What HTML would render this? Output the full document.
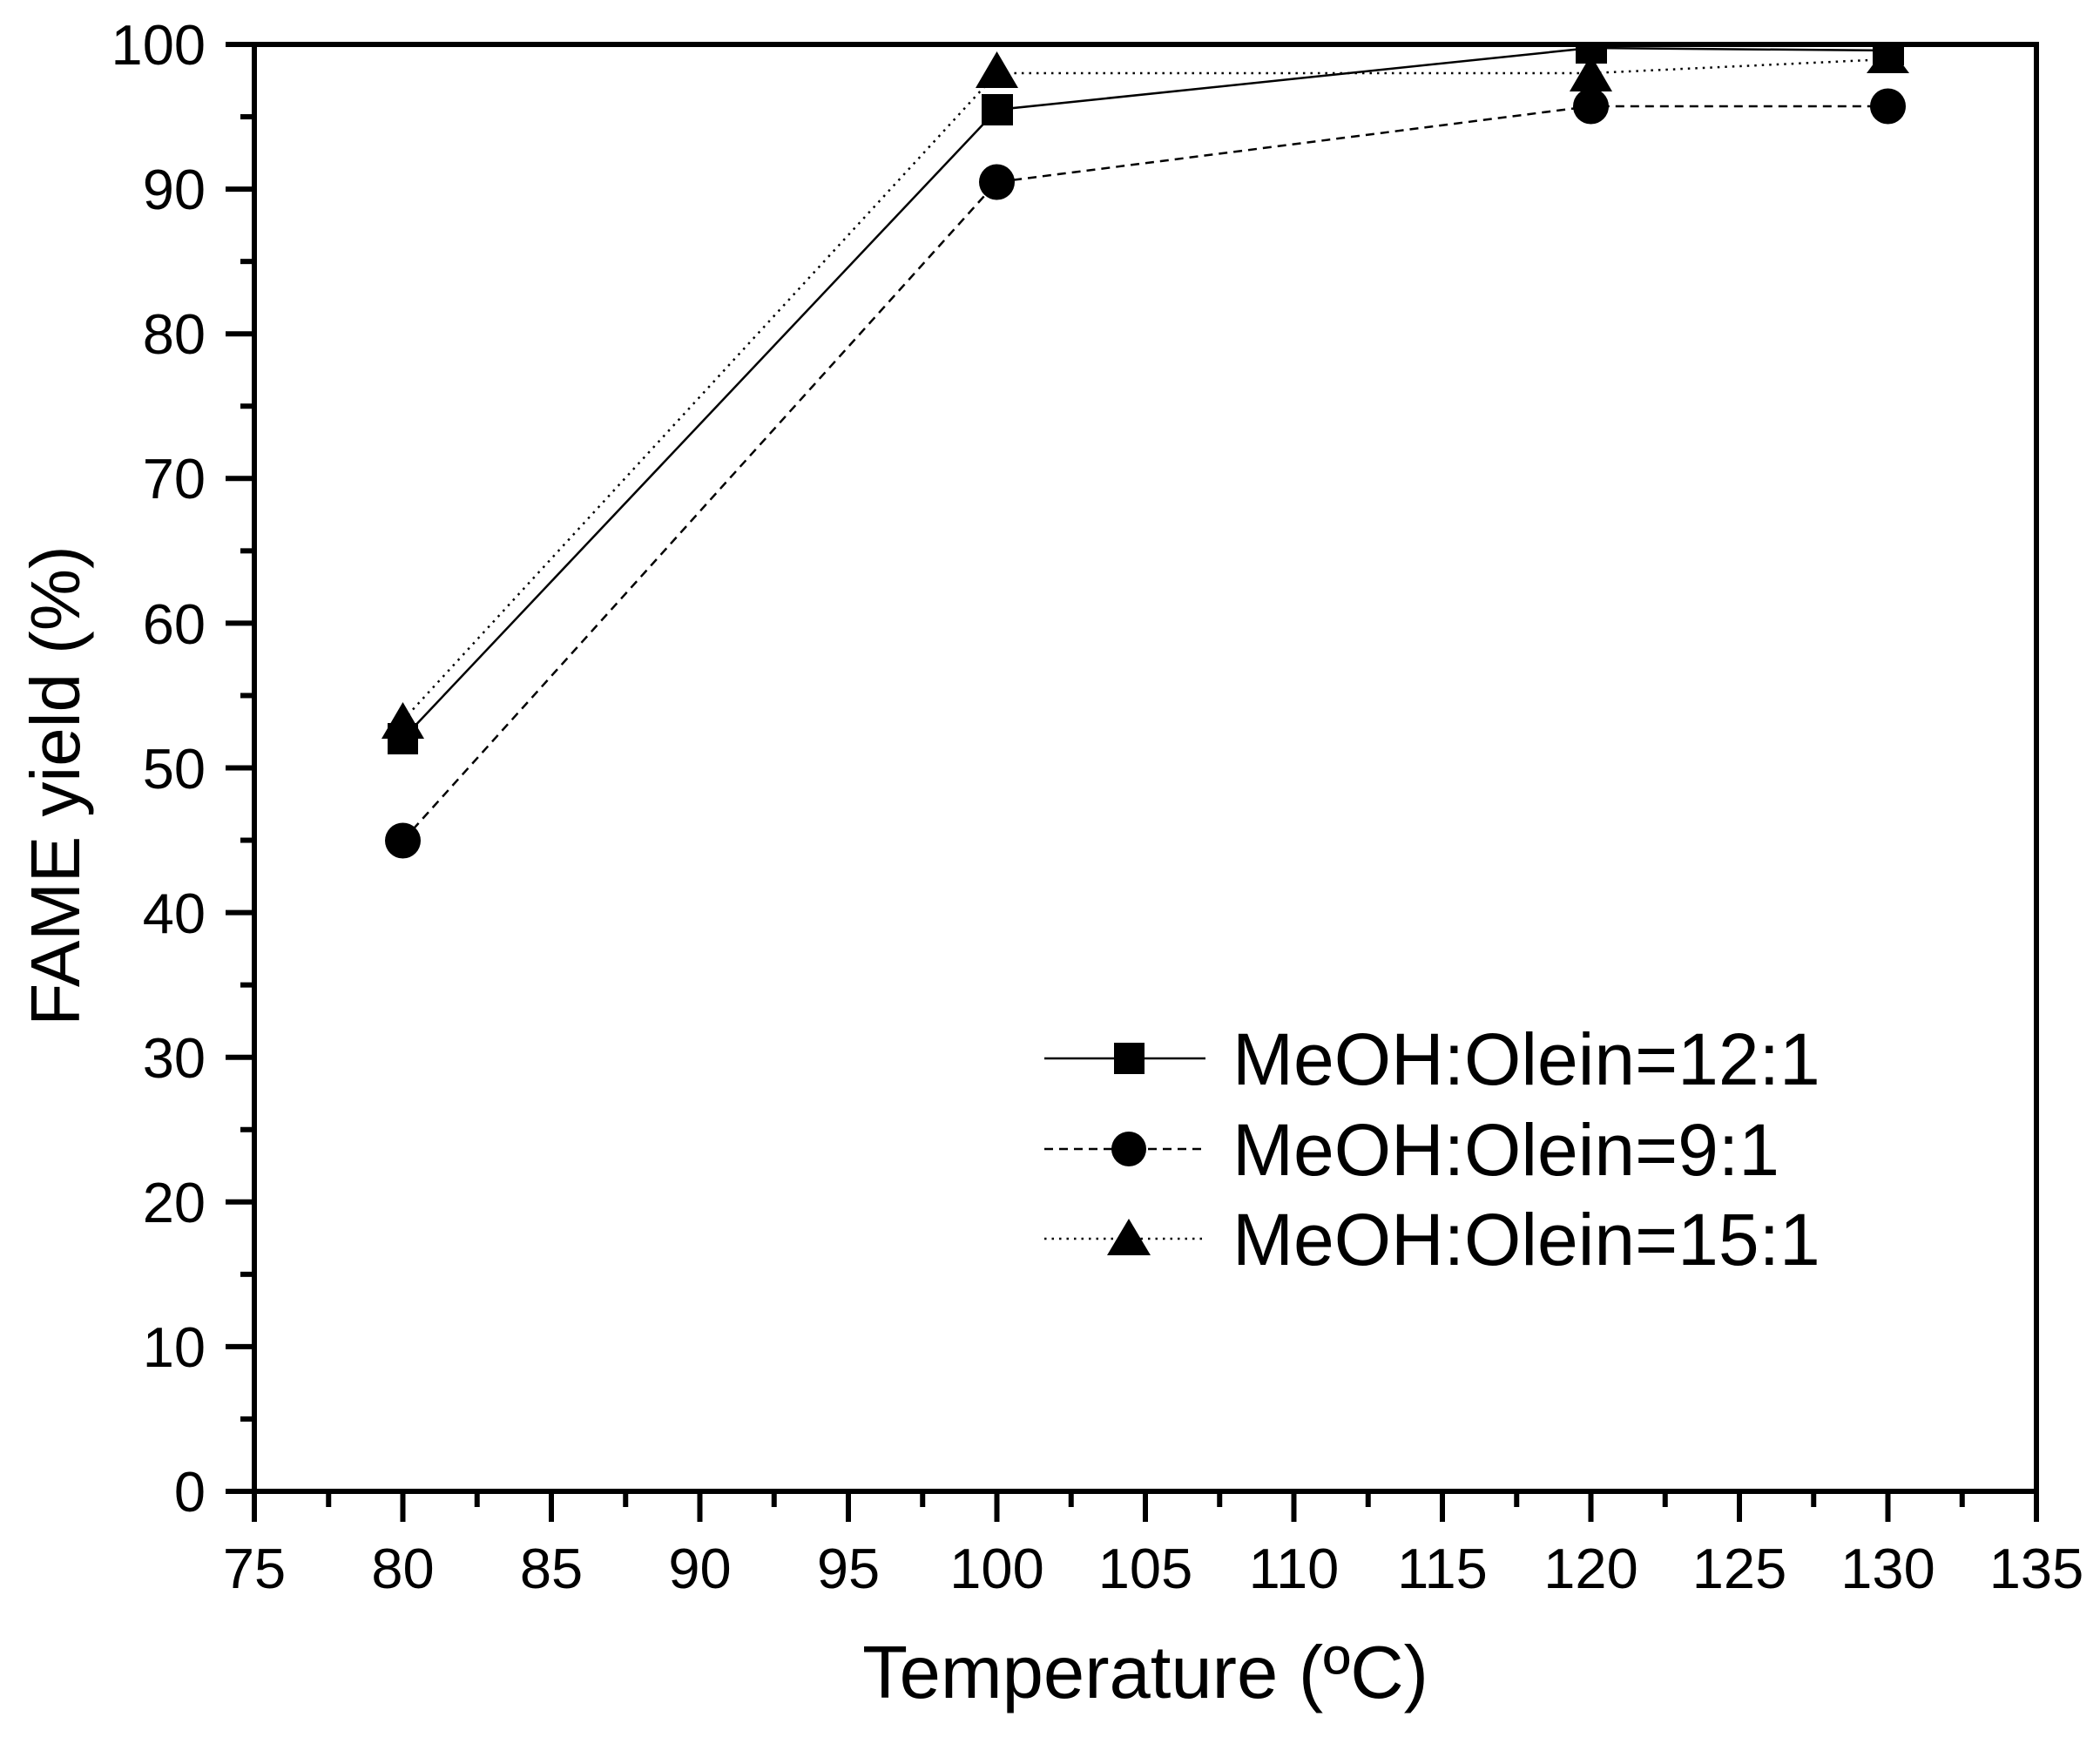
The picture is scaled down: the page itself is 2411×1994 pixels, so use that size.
<!DOCTYPE html>
<html><head><meta charset="utf-8"><style>
html,body{margin:0;padding:0;background:#fff;}
svg{display:block;}
text{font-family:"Liberation Sans",Arial,sans-serif;fill:#000;}
</style></head><body>
<svg width="2411" height="1994" viewBox="0 0 2411 1994" xmlns="http://www.w3.org/2000/svg">
<!-- axes frame -->
<rect x="292" y="51" width="2046" height="1661" fill="none" stroke="#000" stroke-width="6"/>
<g stroke="#000" stroke-width="6">
<!-- x major ticks -->
<line x1="292" y1="1712" x2="292" y2="1747"/>
<line x1="462.5" y1="1712" x2="462.5" y2="1747"/>
<line x1="633" y1="1712" x2="633" y2="1747"/>
<line x1="803.5" y1="1712" x2="803.5" y2="1747"/>
<line x1="974" y1="1712" x2="974" y2="1747"/>
<line x1="1144.5" y1="1712" x2="1144.5" y2="1747"/>
<line x1="1315" y1="1712" x2="1315" y2="1747"/>
<line x1="1485.5" y1="1712" x2="1485.5" y2="1747"/>
<line x1="1656" y1="1712" x2="1656" y2="1747"/>
<line x1="1826.5" y1="1712" x2="1826.5" y2="1747"/>
<line x1="1997" y1="1712" x2="1997" y2="1747"/>
<line x1="2167.5" y1="1712" x2="2167.5" y2="1747"/>
<line x1="2338" y1="1712" x2="2338" y2="1747"/>
<!-- x minor -->
<line x1="377.25" y1="1712" x2="377.25" y2="1730"/>
<line x1="547.75" y1="1712" x2="547.75" y2="1730"/>
<line x1="718.25" y1="1712" x2="718.25" y2="1730"/>
<line x1="888.75" y1="1712" x2="888.75" y2="1730"/>
<line x1="1059.25" y1="1712" x2="1059.25" y2="1730"/>
<line x1="1229.75" y1="1712" x2="1229.75" y2="1730"/>
<line x1="1400.25" y1="1712" x2="1400.25" y2="1730"/>
<line x1="1570.75" y1="1712" x2="1570.75" y2="1730"/>
<line x1="1741.25" y1="1712" x2="1741.25" y2="1730"/>
<line x1="1911.75" y1="1712" x2="1911.75" y2="1730"/>
<line x1="2082.25" y1="1712" x2="2082.25" y2="1730"/>
<line x1="2252.75" y1="1712" x2="2252.75" y2="1730"/>
<!-- y major -->
<line x1="259" y1="1712" x2="292" y2="1712"/>
<line x1="259" y1="1545.9" x2="292" y2="1545.9"/>
<line x1="259" y1="1379.8" x2="292" y2="1379.8"/>
<line x1="259" y1="1213.7" x2="292" y2="1213.7"/>
<line x1="259" y1="1047.6" x2="292" y2="1047.6"/>
<line x1="259" y1="881.5" x2="292" y2="881.5"/>
<line x1="259" y1="715.4" x2="292" y2="715.4"/>
<line x1="259" y1="549.3" x2="292" y2="549.3"/>
<line x1="259" y1="383.2" x2="292" y2="383.2"/>
<line x1="259" y1="217.1" x2="292" y2="217.1"/>
<line x1="259" y1="51" x2="292" y2="51"/>
<!-- y minor -->
<line x1="276" y1="1628.95" x2="292" y2="1628.95"/>
<line x1="276" y1="1462.85" x2="292" y2="1462.85"/>
<line x1="276" y1="1296.75" x2="292" y2="1296.75"/>
<line x1="276" y1="1130.65" x2="292" y2="1130.65"/>
<line x1="276" y1="964.55" x2="292" y2="964.55"/>
<line x1="276" y1="798.45" x2="292" y2="798.45"/>
<line x1="276" y1="632.35" x2="292" y2="632.35"/>
<line x1="276" y1="466.25" x2="292" y2="466.25"/>
<line x1="276" y1="300.15" x2="292" y2="300.15"/>
<line x1="276" y1="134.05" x2="292" y2="134.05"/>
</g>
<!-- y tick labels -->
<g font-size="65" text-anchor="end">
<text x="236" y="1735">0</text>
<text x="236" y="1569">10</text>
<text x="236" y="1403">20</text>
<text x="236" y="1237">30</text>
<text x="236" y="1071">40</text>
<text x="236" y="905">50</text>
<text x="236" y="739">60</text>
<text x="236" y="572">70</text>
<text x="236" y="406">80</text>
<text x="236" y="240">90</text>
<text x="236" y="74">100</text>
</g>
<!-- x tick labels -->
<g font-size="65" text-anchor="middle">
<text x="292" y="1823">75</text>
<text x="462.5" y="1823">80</text>
<text x="633" y="1823">85</text>
<text x="803.5" y="1823">90</text>
<text x="974" y="1823">95</text>
<text x="1144.5" y="1823">100</text>
<text x="1315" y="1823">105</text>
<text x="1485.5" y="1823">110</text>
<text x="1656" y="1823">115</text>
<text x="1826.5" y="1823">120</text>
<text x="1997" y="1823">125</text>
<text x="2167.5" y="1823">130</text>
<text x="2338" y="1823">135</text>
</g>
<text x="1315" y="1949" font-size="85" text-anchor="middle">Temperature (ºC)</text>
<text transform="translate(91,902) rotate(-90)" font-size="80" text-anchor="middle">FAME yield (%)</text>
<!-- series lines -->
<polyline points="462.5,848 1144.5,126 1826.5,55 2167.5,58" fill="none" stroke="#000" stroke-width="2.5"/>
<polyline points="462.5,965 1144.5,209 1826.5,122 2167.5,122" fill="none" stroke="#000" stroke-width="2.5" stroke-dasharray="10,7"/>
<polyline points="462.5,827 1144.5,84 1826.5,84 2167.5,68" fill="none" stroke="#000" stroke-width="2.5" stroke-dasharray="2.5,6"/>
<!-- markers -->
<g fill="#000">
<rect x="445" y="830" width="35" height="36"/>
<rect x="1127" y="108" width="36" height="36"/>
<rect x="1809" y="51" width="36" height="22"/>
<rect x="2150" y="51" width="36" height="24"/>
<circle cx="462.5" cy="965" r="20.5"/>
<circle cx="1144.5" cy="209" r="20.5"/>
<circle cx="1826.5" cy="122" r="20.5"/>
<circle cx="2167.5" cy="122" r="20.5"/>
<polygon points="462.5,806 487,848 438,848"/>
<polygon points="1144.5,59 1169,101 1120,101"/>
<polygon points="1826.5,63 1851,105 1802,105"/>
<polygon points="2167.5,51 2192,84 2143,84"/>
</g>
<!-- legend -->
<line x1="1199" y1="1215" x2="1384" y2="1215" stroke="#000" stroke-width="2.5"/>
<rect x="1279" y="1197" width="35" height="36" fill="#000"/>
<line x1="1199" y1="1319" x2="1384" y2="1319" stroke="#000" stroke-width="2.5" stroke-dasharray="10,7"/>
<circle cx="1296" cy="1319" r="20" fill="#000"/>
<line x1="1199" y1="1422" x2="1384" y2="1422" stroke="#000" stroke-width="2.5" stroke-dasharray="2.5,6"/>
<polygon points="1296,1399 1321,1441 1271,1441" fill="#000"/>
<g font-size="84">
<text x="1415" y="1245">MeOH:Olein=12:1</text>
<text x="1415" y="1349">MeOH:Olein=9:1</text>
<text x="1415" y="1452">MeOH:Olein=15:1</text>
</g>
</svg>
</body></html>
